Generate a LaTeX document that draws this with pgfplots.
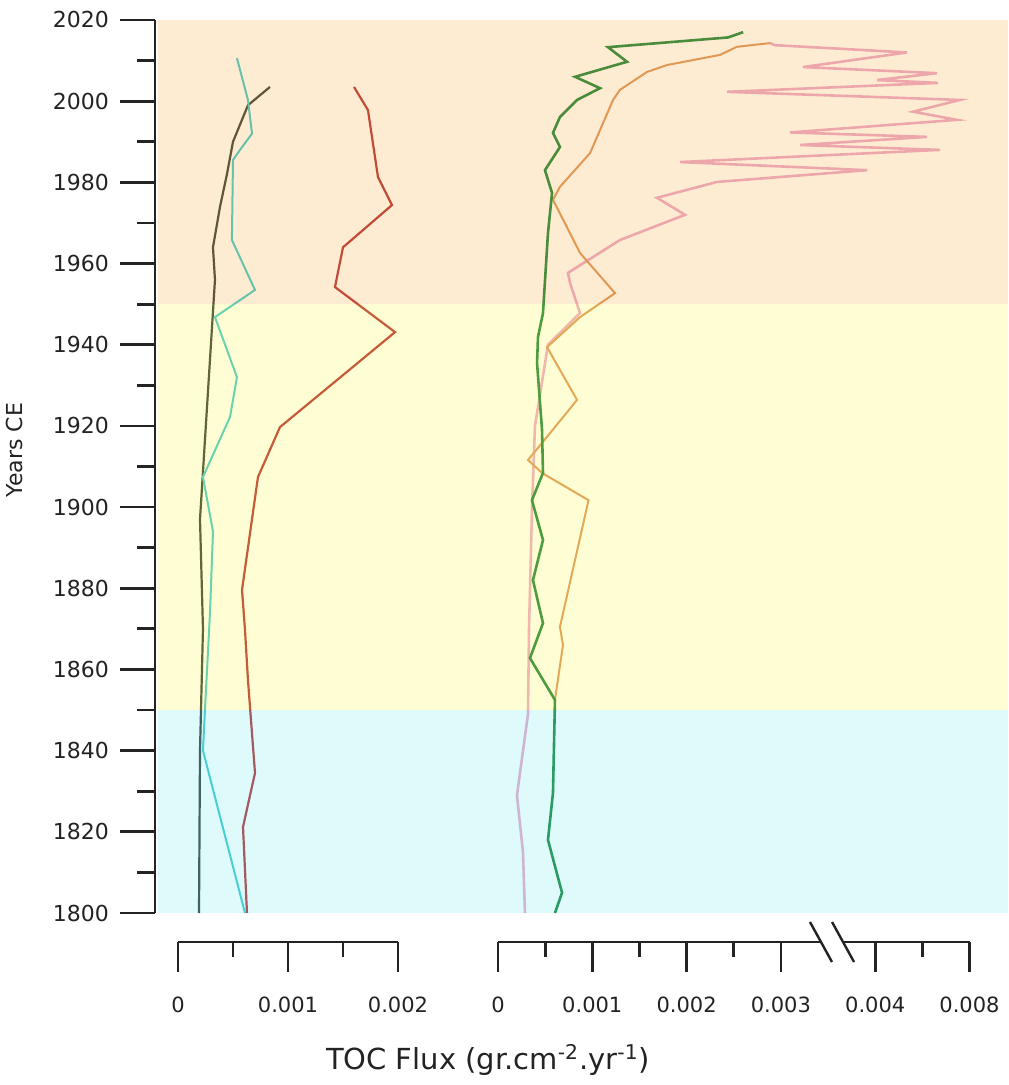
\documentclass[border=0pt]{standalone}
\usepackage{fontspec}
\setmainfont{DejaVu Sans}
\usepackage{pgfplots}
\usepackage{pgfplotstable}
\pgfplotsset{compat=1.18}
\definecolor{axisgray}{RGB}{35,35,35}
\definecolor{cdark}{RGB}{30,40,35}
\definecolor{cred}{RGB}{172,25,34}
\definecolor{cteal}{RGB}{40,195,200}
\definecolor{cgreen}{RGB}{0,118,41}
\definecolor{corange}{RGB}{215,135,75}
\definecolor{cpink}{RGB}{229,140,190}
\definecolor{bandorange}{RGB}{248,192,105}
\definecolor{bandyellow}{RGB}{255,248,112}
\definecolor{bandcyan}{RGB}{145,238,238}

% left group (0 - 0.002 scale)
\pgfplotstableread{
year val
1800 0.000191
1840 0.000200
1870 0.000227
1897 0.000200
1956 0.000336
1964 0.000318
1974 0.000382
1982 0.000445
1990 0.000500
1999 0.000636
2003.5 0.000836
}\darkdata
\pgfplotstableread{
year val
1800 0.000609
1840 0.000227
1850 0.000245
1874 0.000291
1894 0.000318
1907.4 0.000227
1922.2 0.000473
1932 0.000536
1946.8 0.000336
1953.5 0.000700
1965.8 0.000490
1985.5 0.000500
1988 0.000564
1992 0.000673
2000.3 0.000636
2010.6 0.000536
}\tealdata
\pgfplotstableread{
year val
1800 0.000627
1821.2 0.000591
1834.5 0.000700
1857.4 0.000636
1869.7 0.000609
1879.6 0.000582
1907.4 0.000727
1919.7 0.000927
1943.1 0.001973
1954.2 0.001427
1964 0.001500
1974.4 0.001945
1981.3 0.001818
1997.8 0.001727
2003.5 0.001600
}\reddata
% right group (0 - 0.008 scale)
\pgfplotstableread{
year val
1800 0.000604
1805 0.000679
1818 0.000530
1829.6 0.000583
1852.5 0.000604
1862.8 0.000339
1871.4 0.000477
1882 0.000371
1891.9 0.000477
1901.7 0.000360
1908.4 0.000477
1919 0.000467
1935.5 0.000414
1941.9 0.000424
1947.8 0.000477
1967.5 0.000530
1977.4 0.000573
1983 0.000498
1988.7 0.000657
1992.2 0.000583
1996.1 0.000657
2000.3 0.000838
2003.2 0.001082
2006 0.000817
2009.7 0.001368
2013.3 0.001166
2015.7 0.002440
2017 0.002600
}\greendata
\pgfplotstableread{
year val
1852.5 0.000604
1866 0.000689
1870.5 0.000657
1901.7 0.000960
1908.4 0.000467
1911.6 0.000318
1917.3 0.000520
1926.4 0.000838
1939.4 0.000520
1946.8 0.000870
1952.7 0.001241
1962.6 0.000870
1975.7 0.000583
1978.9 0.000657
1987.2 0.000976
2000.3 0.001220
2002.8 0.001294
2007.2 0.001580
2008.9 0.001792
2011.4 0.002354
2013.4 0.002534
2014.3 0.002884
}\orangedata
\pgfplotstableread{
year val
1800 0.000286
1815 0.000265
1829 0.000201
1849 0.000318
1870 0.000329
1900 0.000361
1920 0.000392
1940 0.000530
1947.8 0.000870
1955.2 0.000764
1957.7 0.000742
1961.6 0.001007
1965.8 0.001294
1972 0.001983
1976.2 0.001686
1980.1 0.002322
1983 0.003913
1985 0.001930
1988 0.004687
1989.2 0.003203
1991.2 0.004549
1992.3 0.003097
1995.4 0.004867
1997.4 0.004401
2000.3 0.004899
2002.3 0.002428
2004.5 0.004666
2005.2 0.004019
2006.9 0.004655
2008.4 0.003234
2012 0.004337
2013.8 0.002937
2014.3 0.002884
}\pinkdata

\begin{document}
\begin{tikzpicture}
\useasboundingbox (-77.5pt,-86pt) rectangle (426.5pt,456.5pt);
% main axis: y axis + left group
\begin{axis}[
  at={(0pt,0pt)}, anchor=south west,
  scale only axis, width=426.5pt, height=446.5pt,
  xmin=-0.00020909, xmax=0.0075455, ymin=1800, ymax=2020,
  axis x line=none, axis y line*=left,
  y axis line style={line width=1.4pt, axisgray},
  ytick={1800,1820,...,2020},
  minor ytick={1810,1830,...,2010},
  tick align=outside,
  major tick length=17.5pt, minor tick length=9pt,
  ytick style={line width=1.4pt, axisgray},
  yticklabel style={font=\fontsize{11}{13}\selectfont, text=axisgray, xshift=-2pt,
    /pgf/number format/1000 sep={}, /pgf/number format/assume math mode=true},
  ylabel={Years CE},
  ylabel style={at={(axis description cs:-0.1653,0.5185)}, anchor=center, rotate=0,
    font=\fontsize{11}{13}\selectfont, text=axisgray},
]
\addplot[cdark, line width=1.1pt] table[x=val, y=year]{\darkdata};
\addplot[cteal, line width=1.0pt] table[x=val, y=year]{\tealdata};
\addplot[cred, line width=1.1pt] table[x=val, y=year]{\reddata};
\end{axis}
% overlay axis: right group + bands
\begin{axis}[
  at={(0pt,0pt)}, anchor=south west,
  scale only axis, width=426.5pt, height=446.5pt,
  xmin=-0.0036373, xmax=0.0054083, ymin=1800, ymax=2020,
  axis lines=none, xtick=\empty, ytick=\empty,
]
\addplot[cpink, line width=1.3pt, opacity=0.85] table[x=val, y=year]{\pinkdata};
\addplot[corange, line width=1.0pt] table[x=val, y=year]{\orangedata};
\addplot[cgreen, line width=1.3pt] table[x=val, y=year]{\greendata};
\fill[bandorange, fill opacity=0.3] (axis cs:-0.0036055,1950) rectangle (axis cs:0.0054083,2020);
\fill[bandyellow, fill opacity=0.3] (axis cs:-0.0036055,1850) rectangle (axis cs:0.0054083,1950);
\fill[bandcyan, fill opacity=0.3] (axis cs:-0.0036055,1800) rectangle (axis cs:0.0054083,1850);
\end{axis}
% bottom left scale
\begin{axis}[
  at={(11.5pt,-14.5pt)}, anchor=south west,
  scale only axis, width=110pt, height=10pt,
  xmin=0, xmax=0.002, ymin=0, ymax=1,
  scaled x ticks=false,
  axis x line*=bottom, axis y line=none,
  x axis line style={line width=1.4pt, axisgray, -},
  xtick={0,0.001,0.002}, xticklabels={0,0.001,0.002},
  minor xtick={0.0005,0.0015},
  tick align=outside, major tick length=15pt, minor tick length=7.5pt,
  xtick style={line width=1.4pt, axisgray},
  xticklabel style={font=\fontsize{10.5}{12}\selectfont, text=axisgray, yshift=-9pt},
]
\end{axis}
% bottom right scale
\begin{axis}[
  at={(171.5pt,-14.5pt)}, anchor=south west,
  scale only axis, width=235.75pt, height=10pt,
  xmin=0, xmax=0.005, ymin=0, ymax=1, clip=false,
  scaled x ticks=false,
  axis x line*=bottom, axis y line=none,
  x axis line style={line width=1.4pt, axisgray, -},
  xtick={0,0.001,0.002,0.003,0.004,0.005},
  xticklabels={0,0.001,0.002,0.003,0.004,0.008},
  minor xtick={0.0005,0.0015,0.0025,0.0045},
  tick align=outside, major tick length=15pt, minor tick length=7.5pt,
  xtick style={line width=1.4pt, axisgray},
  xticklabel style={font=\fontsize{10.5}{12}\selectfont, text=axisgray, yshift=-9pt},
]
\coordinate (brk1) at (axis cs:0.003425,0);
\coordinate (brk2) at (axis cs:0.003659,0);
\end{axis}
\fill[white] ([yshift=-1.2pt]brk1) rectangle ([yshift=1.2pt]brk2);
\draw[line width=1.2pt, axisgray] ([shift={(-5.5pt,10pt)}]brk1) -- ([shift={(5.5pt,-10pt)}]brk1);
\draw[line width=1.2pt, axisgray] ([shift={(-5.5pt,10pt)}]brk2) -- ([shift={(5.5pt,-10pt)}]brk2);
\node[font=\fontsize{14.5}{17}\selectfont, text=axisgray] at (166.5pt,-73.5pt)
  {TOC Flux (gr.cm\textsuperscript{-2}.yr\textsuperscript{-1})};
\end{tikzpicture}
\end{document}
